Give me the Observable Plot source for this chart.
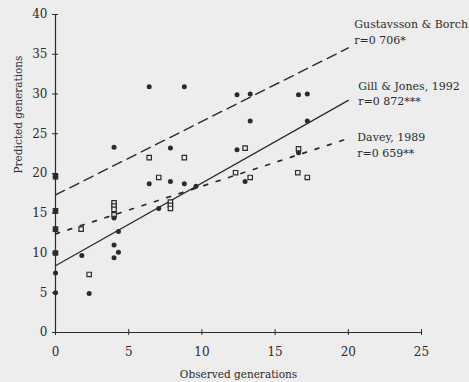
<!DOCTYPE html>
<html>
<head>
<meta charset="utf-8">
<script src="https://cdn.jsdelivr.net/npm/d3@7"></script>
<script src="https://cdn.jsdelivr.net/npm/@observablehq/plot@0.6"></script>
<style>
  html, body { margin: 0; padding: 0; background: #ededed; }
  #chart svg { display: block; }
</style>
</head>
<body>
<div id="chart"></div>
<script>
// Tick values
const xTicks = [0, 5, 10, 15, 20, 25];
const yTicks = [0, 5, 10, 15, 20, 25, 30, 35, 40];

// Filled circles (observed, predicted)
const filledObs  = [0, 0, 0, 0, 0, 0, 1.8, 2.3, 4, 4, 4, 4, 4.3, 4.3, 6.4, 6.4, 7.05, 7.85, 7.85, 8.8, 8.8, 9.6, 12.4, 12.4, 12.95, 13.3, 13.3, 16.6, 16.6, 17.2, 17.2];
const filledPred = [19.6, 15.3, 13, 10, 7.5, 5, 9.7, 4.9, 23.3, 14.4, 11, 9.4, 10.1, 12.7, 30.9, 18.7, 15.6, 23.2, 19.0, 30.9, 18.7, 18.4, 29.9, 23.0, 19.0, 30.0, 26.6, 29.9, 22.6, 30.0, 26.6];

// Open squares (observed, predicted)
const openObs  = [0, 0, 0, 0, 1.75, 2.3, 4, 4, 4, 4, 6.4, 7.05, 7.85, 7.85, 7.85, 8.8, 12.3, 12.95, 13.3, 16.55, 16.6, 17.2];
const openPred = [19.6, 15.3, 13, 10, 13, 7.3, 16.3, 15.9, 15.5, 14.8, 22, 19.5, 16.4, 16.0, 15.6, 22, 20.1, 23.2, 19.5, 20.1, 23.1, 19.5];

// Fitted regression lines (end points)
const fitX = [0, 20];
const gustavssonFit = [17.3, 35.8];
const gillFit = [8.4, 29.2];
const daveyFit = [12.4, 24.4];

// Line labels
const gustavssonLabel = ["Gustavsson & Borch\nr=0 706*"];
const gillLabel = ["Gill & Jones, 1992\nr=0 872***"];
const daveyLabel = ["Davey, 1989\nr=0 659**"];

const xLabel = ["Observed generations"];
const yLabel = ["Predicted generations"];

const ink = "#2b2b2b";
const bg = "#ededed";

const filled = filledObs.map((x, i) => ({x, y: filledPred[i]}));
const open = openObs.map((x, i) => ({x, y: openPred[i]}));
const fit = (ys) => fitX.map((x, i) => ({x, y: ys[i]}));

const endLabel = (labels, ys, dx, dy) =>
  Plot.text(labels, {
    x: () => fitX[fitX.length - 1],
    y: () => ys[ys.length - 1],
    text: d => d,
    textAnchor: "start",
    lineAnchor: "middle",
    lineHeight: 1.45,
    dx, dy,
    fontSize: 11,
    fill: ink
  });

const chart = Plot.plot({
  width: 469,
  height: 382,
  marginLeft: 55,
  marginRight: 48,
  marginTop: 14,
  marginBottom: 50,
  x: {domain: [0, 25]},
  y: {domain: [0, 40]},
  style: {background: bg, fontFamily: "'DejaVu Serif', serif", fontSize: "12px", color: ink},
  marks: [
    Plot.ruleX([0], {stroke: ink, strokeWidth: 1.2}),
    Plot.ruleY([0], {stroke: ink, strokeWidth: 1.2}),
    Plot.axisX({ticks: xTicks, tickSize: 6, dy: -3, tickPadding: 12, label: null, fontSize: 12}),
    Plot.axisY({ticks: yTicks, tickSize: 6, dx: 3, tickPadding: 5, label: null, fontSize: 12}),
    Plot.text(xLabel, {text: d => d, frameAnchor: "bottom", dy: 45, fontSize: 10.5, fill: ink}),
    Plot.text(yLabel, {text: d => d, frameAnchor: "left", rotate: -90, dx: -37, fontSize: 10.5, fill: ink}),
    Plot.line(fit(gustavssonFit), {x: "x", y: "y", stroke: ink, strokeWidth: 1.4, strokeDasharray: "10,6"}),
    Plot.line(fit(gillFit), {x: "x", y: "y", stroke: ink, strokeWidth: 1.3}),
    Plot.line(fit(daveyFit), {x: "x", y: "y", stroke: ink, strokeWidth: 1.7, strokeDasharray: "4,9"}),
    Plot.dot(open, {x: "x", y: "y", symbol: "square", r: 2.5, stroke: ink, strokeWidth: 1.2, fill: bg}),
    Plot.dot(filled, {x: "x", y: "y", r: 2.5, fill: ink, stroke: "none"}),
    endLabel(gustavssonLabel, gustavssonFit, 6, -17),
    endLabel(gillLabel, gillFit, 10, -8),
    endLabel(daveyLabel, daveyFit, 9, 5)
  ]
});

document.getElementById("chart").appendChild(chart);
</script>
</body>
</html>
